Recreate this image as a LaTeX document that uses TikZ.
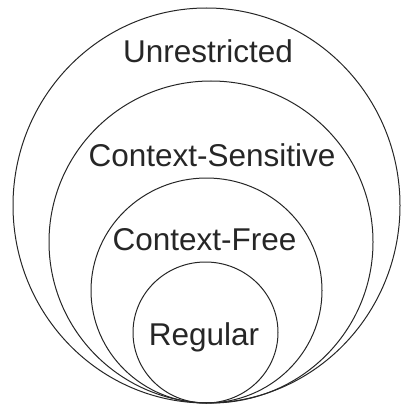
\documentclass[tikz,border=0pt]{standalone}
\usepackage{fontspec}
\setmainfont{Liberation Sans}
\begin{document}
\begin{tikzpicture}[x=1pt,y=-1pt,
  ring/.style={draw=black!85,line width=1pt},
  lbl/.style={anchor=base,inner sep=0pt,font=\fontsize{31.5}{36}\selectfont,text=black!85}]
\useasboundingbox (0,0) rectangle (403,406);
\draw[ring] (206.5,205.5) ellipse [x radius=193.5,y radius=197.5];
\draw[ring] (211,242) ellipse [x radius=162,y radius=161];
\draw[ring] (206.5,290.5) ellipse [x radius=115.5,y radius=112.5];
\draw[ring] (205.5,332.5) ellipse [x radius=72.5,y radius=70.5];
\node[lbl] (u) at (208,63) {Unrestricted};
\node[lbl] (cs) at (212,166) {Context-Sensitive};
\node[lbl] (cf) at (204.5,250) {Context-Free};
\node[lbl] (r) at (204,345) {Regular};
\end{tikzpicture}
\end{document}
